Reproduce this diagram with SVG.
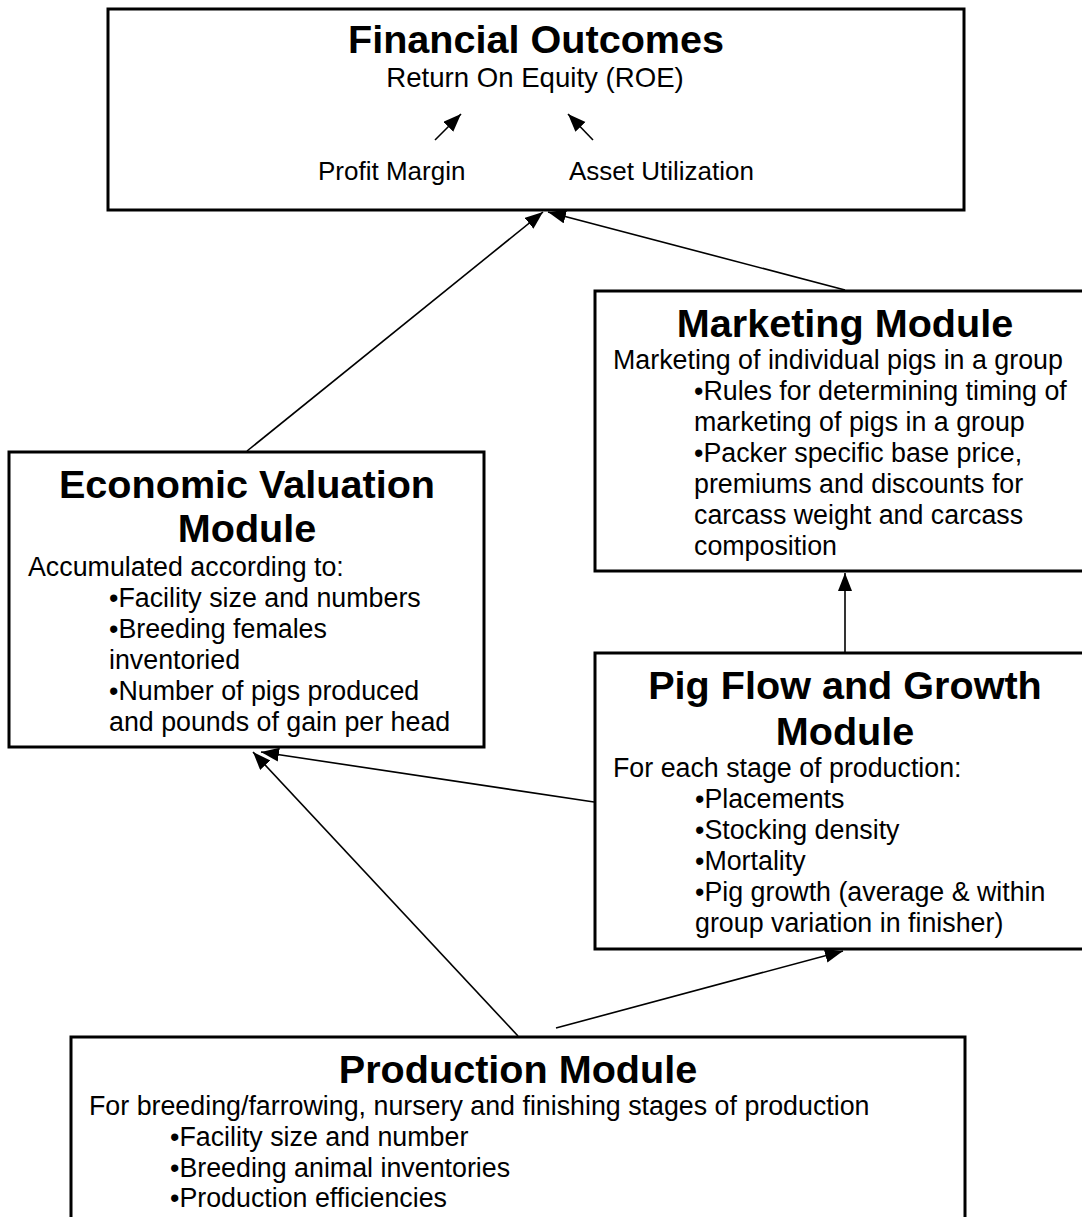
<svg xmlns="http://www.w3.org/2000/svg" width="1082" height="1217" viewBox="0 0 1082 1217">
<style>
.box{fill:#fff;stroke:#000;stroke-width:3}
.t{font-family:"Liberation Sans",Arial,sans-serif;font-weight:bold;font-size:39.6px;text-anchor:middle;fill:#000}
.b{font-family:"Liberation Sans",Arial,sans-serif;font-size:26.8px;fill:#000}
.s{font-size:26px}
.r{font-size:27.6px}
.c{text-anchor:middle}
.ln{stroke:#000;stroke-width:1.6;fill:none;marker-end:url(#ah)}
</style>
<defs>
<marker id="ah" markerUnits="userSpaceOnUse" markerWidth="20" markerHeight="16" refX="18" refY="7" orient="auto">
<path d="M0,0 L18,7 L0,14 z" fill="#000"/>
</marker>
</defs>
<rect width="1082" height="1217" fill="#fff"/>
<g id="financial">
<rect class="box" x="108" y="9" width="856" height="201"/>
<text class="t" x="536" y="53">Financial Outcomes</text>
<text class="b r c" x="535" y="87">Return On Equity (ROE)</text>
<line class="ln" x1="435" y1="140" x2="461" y2="114"/>
<line class="ln" x1="593" y1="140" x2="568" y2="114"/>
<text class="b s" x="318" y="180">Profit Margin</text>
<text class="b s" x="569" y="180">Asset Utilization</text>
</g>
<g id="marketing">
<rect class="box" x="595" y="291" width="495" height="280"/>
<text class="t" x="845" y="337">Marketing Module</text>
<text class="b" x="613" y="369">Marketing of individual pigs in a group</text>
<text class="b" x="694" y="400">•Rules for determining timing of</text>
<text class="b" x="694" y="431">marketing of pigs in a group</text>
<text class="b" x="694" y="462">•Packer specific base price,</text>
<text class="b" x="694" y="493">premiums and discounts for</text>
<text class="b" x="694" y="524">carcass weight and carcass</text>
<text class="b" x="694" y="555">composition</text>
</g>
<g id="economic">
<rect class="box" x="9" y="452" width="475" height="295"/>
<text class="t" x="247" y="498">Economic Valuation</text>
<text class="t" x="247" y="542">Module</text>
<text class="b" x="28" y="576">Accumulated according to:</text>
<text class="b" x="109" y="607">•Facility size and numbers</text>
<text class="b" x="109" y="638">•Breeding females</text>
<text class="b" x="109" y="669">inventoried</text>
<text class="b" x="109" y="700">•Number of pigs produced</text>
<text class="b" x="109" y="731">and pounds of gain per head</text>
</g>
<g id="pigflow">
<rect class="box" x="595" y="653" width="495" height="296"/>
<text class="t" x="845" y="699">Pig Flow and Growth</text>
<text class="t" x="845" y="745">Module</text>
<text class="b" x="613" y="777">For each stage of production:</text>
<text class="b" x="695" y="808">•Placements</text>
<text class="b" x="695" y="839">•Stocking density</text>
<text class="b" x="695" y="870">•Mortality</text>
<text class="b" x="695" y="901">•Pig growth (average &amp; within</text>
<text class="b" x="695" y="932">group variation in finisher)</text>
</g>
<g id="production">
<rect class="box" x="71" y="1037" width="894" height="200"/>
<text class="t" x="518" y="1083">Production Module</text>
<text class="b" x="89" y="1115">For breeding/farrowing, nursery and finishing stages of production</text>
<text class="b" x="170" y="1146">•Facility size and number</text>
<text class="b" x="170" y="1177">•Breeding animal inventories</text>
<text class="b" x="170" y="1207">•Production efficiencies</text>
</g>
<g id="connectors">
<line class="ln" x1="247" y1="451" x2="543" y2="212"/>
<line class="ln" x1="845" y1="290" x2="548" y2="212"/>
<line class="ln" x1="845" y1="652" x2="845" y2="573"/>
<line class="ln" x1="594" y1="802" x2="261" y2="752"/>
<line class="ln" x1="518" y1="1036" x2="253" y2="752"/>
<line class="ln" x1="556" y1="1028" x2="843" y2="951"/>
</g>
</svg>
